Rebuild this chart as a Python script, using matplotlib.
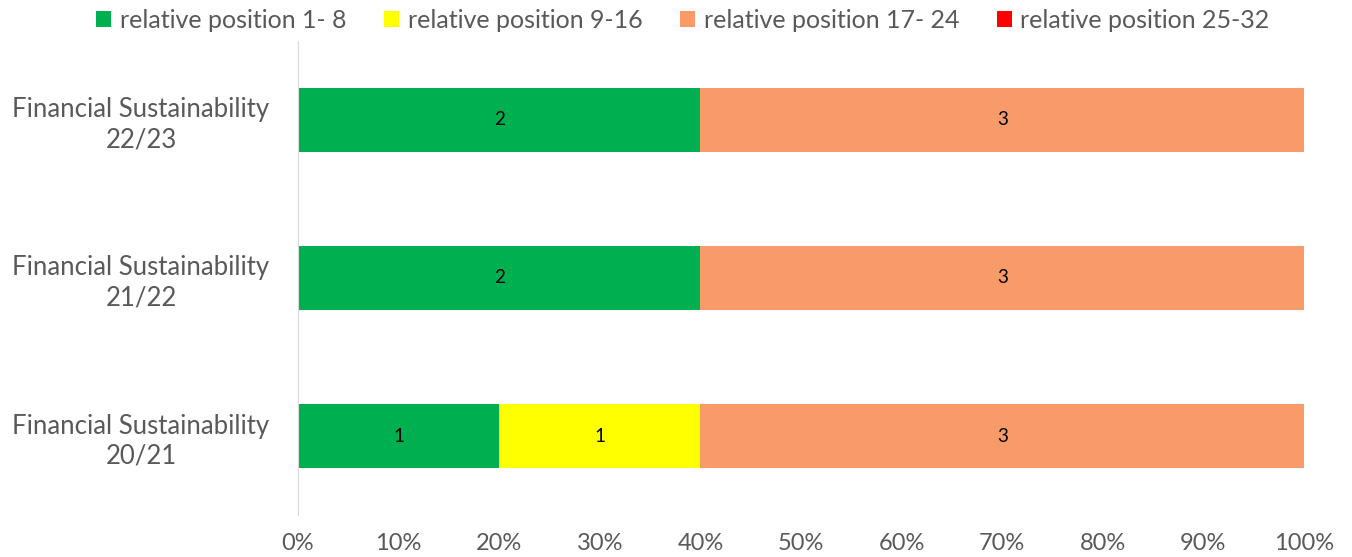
import numpy as np
import matplotlib.pyplot as plt
from matplotlib.patches import Patch

plt.rcParams['font.family'] = ['Lato', 'DejaVu Sans']

# counts per position band, bottom row first
periods = ['Financial Sustainability\n20/21', 'Financial Sustainability\n21/22', 'Financial Sustainability\n22/23']
bands = ['relative position 1- 8', 'relative position 9-16', 'relative position 17- 24', 'relative position 25-32']
pos_1_8 = [1, 2, 2]
pos_9_16 = [1, 0, 0]
pos_17_24 = [3, 3, 3]
pos_25_32 = [0, 0, 0]
colors = ['#00B050', '#FFFF00', '#F99B68', '#FF0000']

counts = np.array([pos_1_8, pos_9_16, pos_17_24, pos_25_32], dtype=float)
shares = counts / counts.sum(axis=0)

fig = plt.figure(figsize=(13.52, 5.57), dpi=100)
ax = fig.add_axes([0.2204, 0.0754, 0.7441, 0.851])

y = np.arange(len(periods))
left = np.zeros(len(periods))
for i in range(len(bands)):
    bars = ax.barh(y, shares[i], left=left, height=0.405, color=colors[i])
    for j, b in enumerate(bars):
        if counts[i, j] > 0:
            ax.text(left[j] + shares[i, j] / 2, y[j], '%d' % counts[i, j],
                    ha='center', va='center', fontsize=13.5, color='#000000')
    left += shares[i]

ax.set_xlim(0, 1)
ax.set_ylim(-0.5, 2.5)
ax.set_xticks(np.arange(0, 1.01, 0.1))
ax.set_xticklabels(['%d%%' % round(v * 100) for v in np.arange(0, 1.01, 0.1)])
ax.set_yticks(y)
ax.set_yticklabels(periods, ha='center', linespacing=1.25)
ax.tick_params(axis='y', length=0, pad=113, labelsize=18.5, labelcolor='#595959')
ax.tick_params(axis='x', length=0, pad=13, labelsize=17, labelcolor='#595959')

for s in ['top', 'right', 'bottom']:
    ax.spines[s].set_visible(False)
ax.spines['left'].set_color('#D9D9D9')

handles = [Patch(facecolor=c, edgecolor='none') for c in colors]
leg = fig.legend(handles, bands, loc='upper center', bbox_to_anchor=(0.505, 1.025), ncol=4,
                 frameon=False, fontsize=18, handlelength=0.6, handleheight=0.6,
                 handletextpad=0.35, columnspacing=1.5)
for t in leg.get_texts():
    t.set_color('#595959')

fig.savefig('out.png', dpi=100)
